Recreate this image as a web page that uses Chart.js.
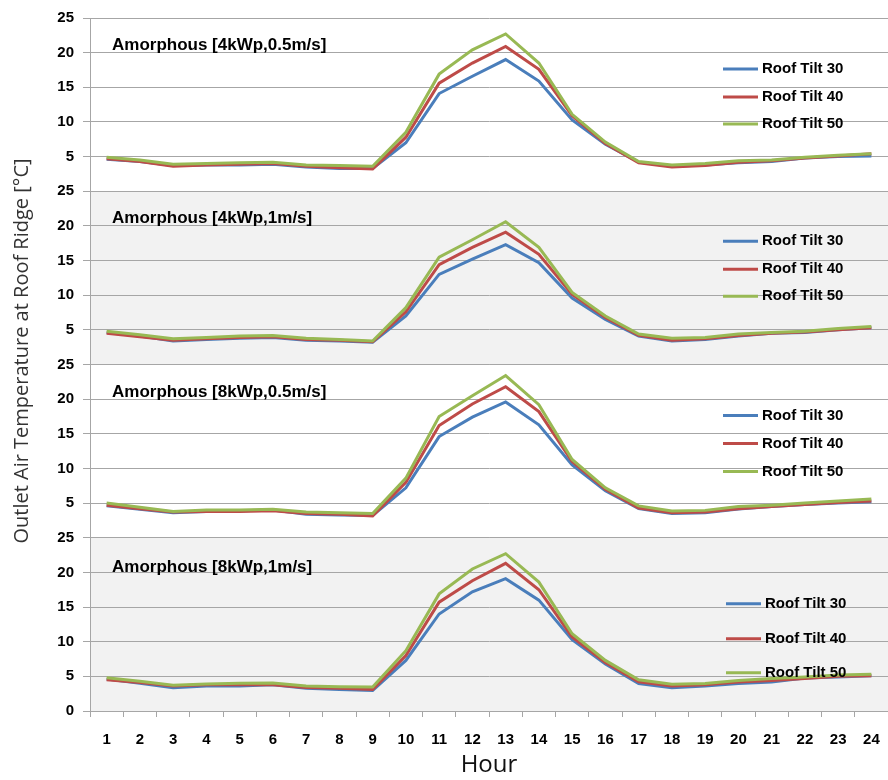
<!DOCTYPE html>
<html>
<head>
<meta charset="utf-8">
<script src="https://cdn.jsdelivr.net/npm/chart.js@4.4.1/dist/chart.umd.min.js"></script>
<style>
  html, body { margin: 0; padding: 0; background: #fff; }
  #wrap { width: 888px; height: 780px; }
</style>
</head>
<body>
<div id="wrap"><canvas id="chart" width="888" height="780"></canvas></div>
<script>
const hours = ['1','2','3','4','5','6','7','8','9','10','11','12','13','14','15','16','17','18','19','20','21','22','23','24'];
const seriesNames = ['Roof Tilt 30', 'Roof Tilt 40', 'Roof Tilt 50'];
const panelTitles = ['Amorphous [4kWp,0.5m/s]', 'Amorphous [4kWp,1m/s]', 'Amorphous [8kWp,0.5m/s]', 'Amorphous [8kWp,1m/s]'];
const yTicks = [0, 5, 10, 15, 20, 25];

// 4kWp, 0.5 m/s
const p1Tilt30 = [4.6, 4.3, 3.7, 3.8, 3.8, 3.9, 3.5, 3.3, 3.3, 7.0, 14.1, 16.6, 19.0, 15.9, 10.3, 6.8, 4.2, 3.6, 3.8, 4.1, 4.3, 4.8, 5.0, 5.1];
const p1Tilt40 = [4.7, 4.3, 3.6, 3.8, 3.9, 4.0, 3.6, 3.4, 3.2, 7.8, 15.6, 18.5, 20.9, 17.6, 10.9, 6.9, 4.1, 3.5, 3.7, 4.2, 4.4, 4.8, 5.1, 5.4];
const p1Tilt50 = [4.9, 4.5, 3.9, 4.0, 4.1, 4.2, 3.8, 3.7, 3.6, 8.5, 16.9, 20.4, 22.7, 18.5, 11.1, 7.1, 4.3, 3.8, 4.0, 4.4, 4.5, 4.9, 5.2, 5.4];
// 4kWp, 1 m/s
const p2Tilt30 = [4.6, 4.1, 3.4, 3.6, 3.8, 3.9, 3.5, 3.4, 3.2, 7.0, 13.0, 15.2, 17.3, 14.7, 9.6, 6.5, 4.1, 3.4, 3.6, 4.1, 4.5, 4.6, 5.0, 5.3];
const p2Tilt40 = [4.5, 4.0, 3.5, 3.7, 3.9, 4.0, 3.6, 3.5, 3.3, 7.6, 14.4, 16.9, 19.1, 15.9, 10.1, 6.8, 4.2, 3.5, 3.7, 4.2, 4.5, 4.7, 5.0, 5.3];
const p2Tilt50 = [4.8, 4.3, 3.7, 3.9, 4.1, 4.2, 3.8, 3.6, 3.4, 8.2, 15.5, 18.0, 20.6, 16.9, 10.4, 7.0, 4.4, 3.8, 3.9, 4.4, 4.6, 4.8, 5.2, 5.5];
// 8kWp, 0.5 m/s
const p3Tilt30 = [4.6, 4.1, 3.6, 3.8, 3.9, 4.0, 3.4, 3.3, 3.2, 7.2, 14.6, 17.4, 19.6, 16.3, 10.5, 6.8, 4.2, 3.5, 3.6, 4.15, 4.5, 4.8, 5.0, 5.2];
const p3Tilt40 = [4.7, 4.2, 3.7, 3.8, 3.8, 3.9, 3.5, 3.4, 3.15, 8.0, 16.2, 19.3, 21.8, 18.2, 11.0, 7.0, 4.3, 3.6, 3.7, 4.2, 4.5, 4.8, 5.1, 5.3];
const p3Tilt50 = [5.0, 4.4, 3.8, 4.0, 4.0, 4.1, 3.7, 3.6, 3.5, 8.6, 17.5, 20.5, 23.4, 19.2, 11.3, 7.2, 4.6, 3.85, 3.95, 4.5, 4.7, 5.0, 5.3, 5.6];
// 8kWp, 1 m/s
const p4Tilt30 = [4.6, 4.0, 3.35, 3.6, 3.6, 3.8, 3.3, 3.1, 2.95, 7.3, 14.0, 17.2, 19.1, 16.0, 10.3, 6.8, 3.95, 3.35, 3.6, 3.95, 4.2, 4.75, 4.9, 5.1];
const p4Tilt40 = [4.5, 4.1, 3.6, 3.8, 3.8, 3.8, 3.4, 3.3, 3.1, 8.0, 15.7, 18.8, 21.3, 17.5, 10.7, 7.0, 4.2, 3.6, 3.8, 4.2, 4.4, 4.7, 5.0, 5.1];
const p4Tilt50 = [4.8, 4.3, 3.7, 3.9, 4.0, 4.05, 3.6, 3.5, 3.46, 8.7, 16.9, 20.5, 22.7, 18.6, 11.15, 7.3, 4.5, 3.85, 3.96, 4.4, 4.7, 4.9, 5.2, 5.3];

const panelData = [
    [p1Tilt30, p1Tilt40, p1Tilt50],
    [p2Tilt30, p2Tilt40, p2Tilt50],
    [p3Tilt30, p3Tilt40, p3Tilt50],
    [p4Tilt30, p4Tilt40, p4Tilt50]
];

const colors = ['#4a7ebb', '#be4b48', '#98b954'];
const panelAxes = ['y1', 'y2', 'y3', 'y4'];   // top to bottom
const gridColor = '#a6a6a6';
const boldFont = '"Liberation Sans", Arial, sans-serif';

// where the per-panel title and legend sit (px from the panel top)
const titleOffsets = [27, 27, 28, 30];
const legendLayout = [
    { x: 723, rows: [51, 79, 106] },
    { x: 723, rows: [50, 78, 105] },
    { x: 723, rows: [51, 79, 107] },
    { x: 726, rows: [66, 101, 135] }
];

const datasets = [];
panelData.forEach((series, p) => {
    series.forEach((values, s) => {
        datasets.push({
            label: seriesNames[s],
            data: values,
            yAxisID: panelAxes[p],
            borderColor: colors[s],
            backgroundColor: colors[s],
            borderWidth: 3,
            pointRadius: 0,
            tension: 0,
            order: 3 - s
        });
    });
});

const scales = {
    x: {
        type: 'category',
        offset: true,
        grid: { drawOnChartArea: false, drawTicks: true, tickLength: 6, color: gridColor, offset: true },
        border: { color: gridColor },
        ticks: { color: '#000', font: { family: boldFont, size: 15, weight: 'bold' }, padding: 14, maxRotation: 0, autoSkip: false },
        title: { display: true, text: 'Hour', color: '#111', font: { family: '"Open Sans", sans-serif', size: 24 }, padding: { top: 0, bottom: 0 } },
        afterFit: (scale) => {
            scale.height = 69;
            scale.paddingLeft = 0;
            scale.paddingRight = 0;
        }
    }
};
// bottom panel first: Chart.js stacks later-defined axes above
[...panelAxes].reverse().forEach(id => {
    scales[id] = {
        type: 'linear',
        position: 'left',
        stack: 'panels',
        stackWeight: 1,
        min: 0,
        max: 25,
        afterBuildTicks: (scale) => { scale.ticks = yTicks.map(v => ({ value: v })); },
        grid: { color: gridColor, tickLength: 7, lineWidth: 1 },
        border: { color: gridColor },
        ticks: {
            color: '#000',
            padding: 9,
            autoSkip: false,
            font: { family: boldFont, size: 15, weight: 'bold' },
            callback: (v) => (v === 0 && id !== 'y4') ? '' : v
        },
        afterFit: (scale) => { scale.width = 90; }
    };
});

const panelDecor = {
    id: 'panelDecor',
    beforeDraw(chart) {
        const { ctx, chartArea } = chart;
        ctx.save();
        panelAxes.forEach((id, i) => {
            if (i % 2 === 1) {
                const s = chart.scales[id];
                ctx.fillStyle = '#f2f2f2';
                ctx.fillRect(chartArea.left, s.top, chartArea.right - chartArea.left, s.bottom - s.top);
            }
        });
        ctx.restore();
    },
    afterDraw(chart) {
        const { ctx } = chart;
        ctx.save();
        panelAxes.forEach((id, p) => {
            const s = chart.scales[id];
            ctx.fillStyle = '#000';
            ctx.textBaseline = 'middle';
            ctx.textAlign = 'left';
            ctx.font = 'bold 17px ' + boldFont;
            ctx.fillText(panelTitles[p], 112, s.top + titleOffsets[p]);

            const lg = legendLayout[p];
            ctx.font = 'bold 15px ' + boldFont;
            seriesNames.forEach((name, k) => {
                const y = s.top + lg.rows[k];
                ctx.strokeStyle = colors[k];
                ctx.lineWidth = 3;
                ctx.beginPath();
                ctx.moveTo(lg.x, y);
                ctx.lineTo(lg.x + 35, y);
                ctx.stroke();
                ctx.fillText(name, lg.x + 39, y);
            });
        });

        // shared y-axis title
        ctx.translate(22, 351);
        ctx.rotate(-Math.PI / 2);
        ctx.textAlign = 'center';
        ctx.textBaseline = 'middle';
        ctx.fillStyle = '#333';
        ctx.font = '20px "Open Sans", sans-serif';
        ctx.fillText('Outlet Air Temperature at Roof Ridge [°C]', 0, 0);
        ctx.restore();
    }
};

new Chart(document.getElementById('chart'), {
    type: 'line',
    data: { labels: hours, datasets },
    options: {
        responsive: false,
        animation: false,
        layout: { padding: { top: 18, right: 0, bottom: 0, left: 0 } },
        plugins: { legend: { display: false }, tooltip: { enabled: false } },
        scales
    },
    plugins: [panelDecor]
});
</script>
</body>
</html>
